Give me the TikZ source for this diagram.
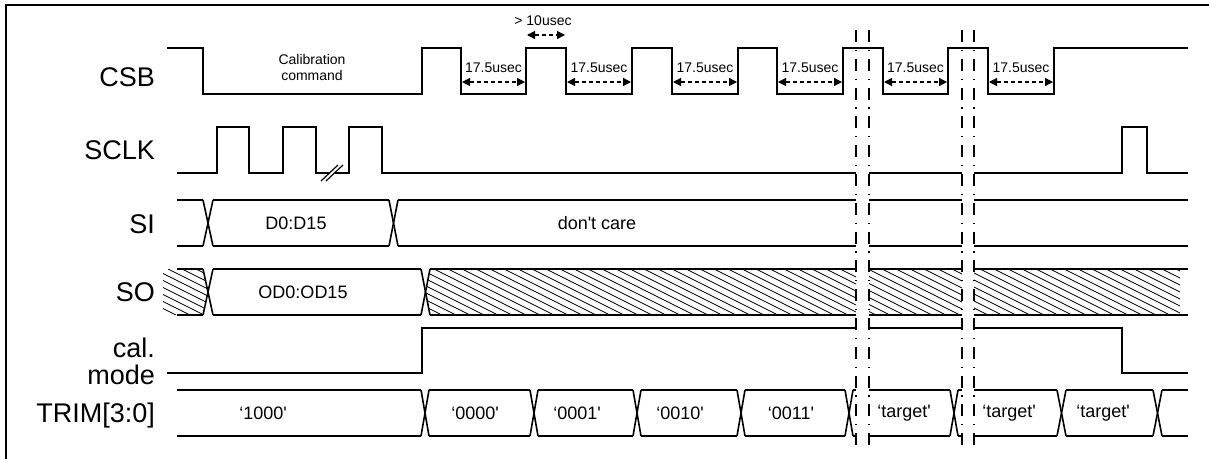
\documentclass[tikz,border=0pt]{standalone}
\usepackage{fontspec}
\setmainfont{Liberation Sans}
\usetikzlibrary{arrows.meta}
\begin{document}
\begin{tikzpicture}[x=1pt,y=-1pt,
  wave/.style={line width=1.6pt, line join=miter},
  hatchln/.style={line width=0.8pt},
  brk/.style={line width=2.7pt, dash pattern=on 12pt off 7.8pt on 1.2pt off 7.8pt},
  siglbl/.style={font=\fontsize{27}{30}\selectfont, anchor=base east, inner sep=0pt},
  small/.style={font=\fontsize{14}{15}\selectfont, inner sep=0pt},
  val/.style={font=\fontsize{18}{20}\selectfont, inner sep=0pt},
  dimarr/.style={line width=1.2pt, dash pattern=on 4pt off 3pt,
    {Triangle[length=8pt,width=8pt]}-{Triangle[length=8pt,width=8pt]}}]
\useasboundingbox (0,0) rectangle (1209,458);
% frame (right and bottom edges fall outside the picture)
\draw[line width=1.3pt] (6,470) -- (6,5) -- (1220,5);

% signal labels
\node[siglbl] (lcsb) at (155,86) {CSB};
\node[siglbl] (lsclk) at (155,159) {SCLK};
\node[siglbl] (lsi) at (155,233) {SI};
\node[siglbl] (lso) at (155,301) {SO};
\node[siglbl] (lcal) at (155,357) {cal.};
\node[siglbl] (lmode) at (155,384) {mode};
\node[siglbl] (ltrim) at (155,422) {TRIM[3:0]};

% CSB
\draw[wave] (167,48) -- (203,48) -- (203,94) -- (422,94) -- (422,48) -- (461,48) -- (461,94)
  -- (526,94) -- (526,48) -- (566,48) -- (566,94) -- (632,94) -- (632,48) -- (672,48)
  -- (672,94) -- (738,94) -- (738,48) -- (777,48) -- (777,94) -- (843,94) -- (843,48)
  -- (883,48) -- (883,94) -- (948,94) -- (948,48) -- (988,48) -- (988,94) -- (1054,94)
  -- (1054,48) -- (1188,48);
\node[small, align=center] (calcmd) at (312,67) {Calibration\\[1pt]command};
\foreach \a/\b [count=\i] in {461/526,566/632,672/738,777/843,883/948,988/1054} {
  \coordinate (da\i) at (\a+1,82);
  \coordinate (db\i) at (\b-1,82);
  \draw[dimarr] (da\i) -- (db\i);
  \node[small] (t\i) at ({(\a+\b)/2},68) {17.5usec};
}
\coordinate (ga) at (527,35);
\coordinate (gb) at (565,35);
\draw[dimarr] (ga) -- (gb);
\node[small] (gap) at (543,21) {> 10usec};

% SCLK
\draw[wave] (177,173) -- (217,173) -- (217,127) -- (249,127) -- (249,173) -- (283,173)
  -- (283,127) -- (316,127) -- (316,173) -- (329.5,173);
\draw[wave] (334.5,173) -- (349,173) -- (349,127) -- (382,127) -- (382,173) -- (856,173);
\draw[line width=1.2pt] (321,181) -- (338,165);
\draw[line width=1.2pt] (326,181) -- (343,165);
\draw[wave] (869,173) -- (962,173);
\draw[wave] (974,173) -- (1122,173) -- (1122,127) -- (1147,127) -- (1147,173) -- (1188,173);

% SI
\foreach \a/\b in {177/203,213/389,398/856,869/962,974/1188} {
  \draw[wave] (\a,200) -- (\b,200);
  \draw[wave] (\a,246) -- (\b,246);
}
\foreach \a/\b in {203/213,389/398} {
  \draw[wave] (\a,200) -- (\b,246);
  \draw[wave] (\a,246) -- (\b,200);
}
\node[val] (d015) at (296,223) {D0:D15};
\node[val] (dc) at (597,223) {don\textquotesingle t care};

% SO
\begin{scope}
  \clip (163,269) -- (203,269) -- (208,292) -- (203,315) -- (163,315) -- cycle
        (430,269) -- (856,269) -- (856,315) -- (430,315) -- (425.5,292) -- cycle
        (869,269) rectangle (962,315)
        (974,269) rectangle (1180,315);
  \foreach \k in {56,70,...,1190} \draw[hatchln] (\k,269) -- ++(92,46);
\end{scope}
\foreach \a/\b in {177/203,213/421,430/856,869/962,974/1188} {
  \draw[wave] (\a,269) -- (\b,269);
  \draw[wave] (\a,315) -- (\b,315);
}
\foreach \a/\b in {203/213,421/430} {
  \draw[wave] (\a,269) -- (\b,315);
  \draw[wave] (\a,315) -- (\b,269);
}
\node[val] (od) at (303,292) {OD0:OD15};

% cal. mode
\draw[wave] (167,373) -- (422,373) -- (422,328) -- (856,328);
\draw[wave] (869,328) -- (962,328);
\draw[wave] (974,328) -- (1122,328) -- (1122,373) -- (1188,373);

% TRIM[3:0]
\foreach \a/\b in {177/421,429/530,538/633,641/737,745/845,853/856,869/950,958/962,974/1057,1066/1153,1162/1188} {
  \draw[wave] (\a,390) -- (\b,390);
  \draw[wave] (\a,436) -- (\b,436);
}
\foreach \a/\b in {421/429,530/538,633/641,737/745,845/853,950/958,1057/1066,1153/1162} {
  \draw[wave] (\a,390) -- (\b,436);
  \draw[wave] (\a,436) -- (\b,390);
}
\node[val] (v1) at (263,413) {‘1000\textquotesingle};
\node[val] (v2) at (475,413) {‘0000\textquotesingle};
\node[val] (v3) at (577,413) {‘0001\textquotesingle};
\node[val] (v4) at (680,413) {‘0010\textquotesingle};
\node[val] (v5) at (791,413) {‘0011\textquotesingle};
\node[val] (v6) at (904,413) {‘target\textquotesingle};
\node[val] (v7) at (1009,413) {‘target\textquotesingle};
\node[val] (v8) at (1103,413) {‘target\textquotesingle};

% time breaks
\foreach \x in {856,869,962,974} \draw[brk] (\x,30) -- (\x,446);
\end{tikzpicture}
\end{document}
